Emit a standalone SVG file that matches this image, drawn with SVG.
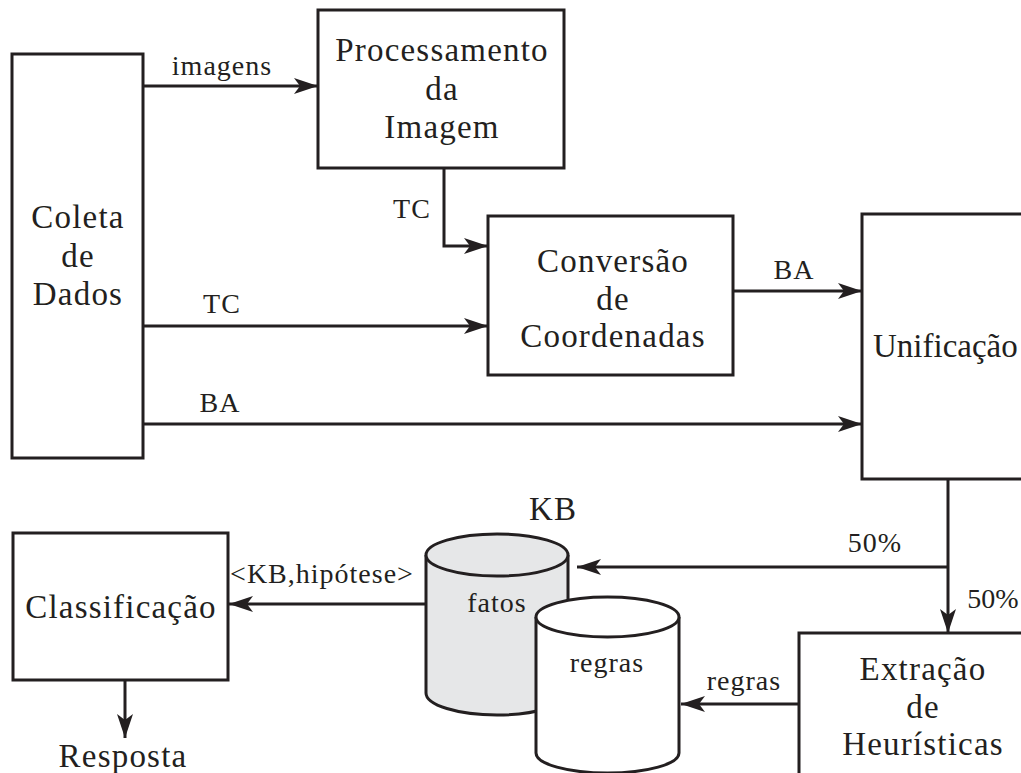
<svg xmlns="http://www.w3.org/2000/svg" width="1021" height="773" viewBox="0 0 1021 773">
  <style>
    .box { fill: #ffffff; stroke: #231f20; stroke-width: 3; }
    .cyl { stroke: #231f20; stroke-width: 3; }
    .edge { fill: none; stroke: #231f20; stroke-width: 3; }
    .lbl { font-family: "Liberation Serif", "Times New Roman", serif; font-size: 33px; letter-spacing: 1.2px; fill: #231f20; text-anchor: middle; }
    .elbl { font-family: "Liberation Serif", "Times New Roman", serif; font-size: 28px; letter-spacing: 1px; fill: #231f20; text-anchor: middle; }
  </style>
  <defs>
    <marker id="arrow" viewBox="0 0 24 16" refX="24" refY="8" markerWidth="24" markerHeight="16" markerUnits="userSpaceOnUse" orient="auto">
      <path d="M0,0 L24,8 L0,16 L6,8 Z" fill="#231f20"/>
    </marker>
  </defs>

  <rect width="1021" height="773" fill="#ffffff"/>

  <!-- connectors -->
  <g id="connectors" class="edge" marker-end="url(#arrow)">
    <path d="M143,86 H318"/>
    <path d="M444,168 V246 H488"/>
    <path d="M143,326 H488"/>
    <path d="M733,291 H862"/>
    <path d="M143,424 H862"/>
    <path d="M948,479 V633"/>
    <path d="M948,567 H577"/>
    <path d="M799,704 H681"/>
    <path d="M426,604 H229"/>
    <path d="M125,680 V738"/>
  </g>

  <!-- connector labels -->
  <g id="edge-labels">
    <text class="elbl" x="222" y="75">imagens</text>
    <text class="elbl" x="412" y="218">TC</text>
    <text class="elbl" x="222" y="313">TC</text>
    <text class="elbl" x="794" y="279">BA</text>
    <text class="elbl" x="220" y="412">BA</text>
    <text class="elbl" x="875" y="552">50%</text>
    <text class="elbl" x="993" y="608" style="letter-spacing:0">50%</text>
    <text class="elbl" x="744" y="690">regras</text>
    <text class="elbl" x="322" y="583">&lt;KB,hipótese&gt;</text>
  </g>

  <g id="coleta">
    <rect class="box" x="12" y="54" width="131" height="404"/>
    <text class="lbl" x="78" y="228">Coleta</text>
    <text class="lbl" x="78" y="267">de</text>
    <text class="lbl" x="78" y="305">Dados</text>
  </g>

  <g id="processamento">
    <rect class="box" x="318" y="10" width="246" height="158"/>
    <text class="lbl" x="442" y="61">Processamento</text>
    <text class="lbl" x="442" y="100">da</text>
    <text class="lbl" x="442" y="138">Imagem</text>
  </g>

  <g id="conversao">
    <rect class="box" x="488" y="216" width="245" height="159"/>
    <text class="lbl" x="613" y="272">Conversão</text>
    <text class="lbl" x="613" y="310">de</text>
    <text class="lbl" x="613" y="347">Coordenadas</text>
  </g>

  <g id="unificacao">
    <rect class="box" x="862" y="214" width="220" height="265"/>
    <text class="lbl" x="873" y="357" style="text-anchor:start;letter-spacing:0">Unificação</text>
  </g>

  <g id="extracao">
    <rect class="box" x="799" y="633" width="260" height="180"/>
    <text class="lbl" x="923" y="680">Extração</text>
    <text class="lbl" x="923" y="718">de</text>
    <text class="lbl" x="923" y="755">Heurísticas</text>
  </g>

  <g id="kb">
    <text class="lbl" x="553" y="520">KB</text>
    <g id="fatos">
      <path class="cyl" fill="#e6e7e8" d="M426,555 V693 A71,22 0 0 0 568,693 V555"/>
      <ellipse class="cyl" fill="#e6e7e8" cx="497" cy="555" rx="71" ry="21"/>
      <text class="elbl" x="497" y="612">fatos</text>
    </g>
    <g id="regras">
      <path class="cyl" fill="#ffffff" d="M536,617 V753 A71.5,20 0 0 0 679,753 V617"/>
      <ellipse class="cyl" fill="#ffffff" cx="607.5" cy="617" rx="71.5" ry="20"/>
      <text class="elbl" x="607" y="672">regras</text>
    </g>
  </g>

  <g id="classificacao">
    <rect class="box" x="13" y="533" width="215" height="147"/>
    <text class="lbl" x="121" y="618">Classificação</text>
  </g>

  <g id="resposta">
    <text class="lbl" x="123" y="767">Resposta</text>
  </g>
</svg>
